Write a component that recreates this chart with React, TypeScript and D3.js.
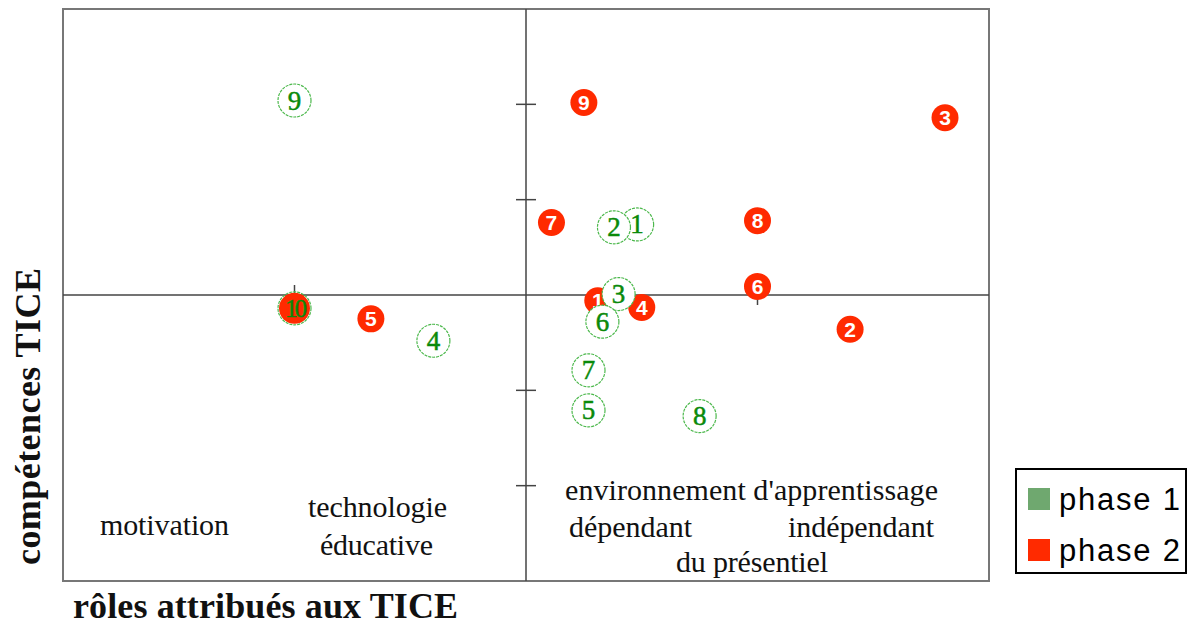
import React from "react";
import * as d3 from "d3";

// phase 1 (green rings) and phase 2 (red discs): coordinates in factorial plane
const phase1Labels = ["1", "2", "3", "4", "5", "6", "7", "8", "9", "10"];
const phase1X = [0.48, 0.38, 0.40, -0.40, 0.27, 0.33, 0.27, 0.75, -1.0, -1.0];
const phase1Y = [0.74, 0.71, 0.01, -0.48, -1.21, -0.28, -0.79, -1.27, 2.04, -0.14];

const phase2Labels = ["1", "2", "3", "4", "5", "6", "7", "8", "9", "10"];
const phase2X = [0.31, 1.40, 1.81, 0.50, -0.67, 1.0, 0.11, 1.0, 0.25, -1.0];
const phase2Y = [-0.06, -0.36, 1.86, -0.13, -0.25, 0.09, 0.76, 0.78, 2.02, -0.14];

const xTicks = [-1, 1];
const yTicks = [-2, -1, 1, 2];

const legendLabels = ["phase 1", "phase 2"];

const W = 1189;
const H = 623;

export default function App() {
  const x = d3.scaleLinear().domain([-2, 2]).range([63, 989]);
  const y = d3.scaleLinear().domain([-3, 3]).range([581, 9]);

  const green = "#0a8a0a";
  const ring = "#4cb84c";
  const red = "#ff2a00";
  const serif = "'Liberation Serif', 'Times New Roman', serif";
  const sans = "'Liberation Sans', Arial, sans-serif";

  const p1 = phase1Labels.map((l, i) => ({ l, x: x(phase1X[i]), y: y(phase1Y[i]) }));
  const p2 = phase2Labels.map((l, i) => ({ l, x: x(phase2X[i]), y: y(phase2Y[i]) }));

  const coincident = (a: { l: string; x: number; y: number }, list: { l: string; x: number; y: number }[]) =>
    list.some((q) => q.l === a.l && Math.hypot(q.x - a.x, q.y - a.y) < 5);

  return (
    <svg
      width={W}
      height={H}
      style={{ position: "absolute", left: 0, top: 0, background: "#fff" }}
    >
      {/* frame */}
      <rect x={63} y={9} width={926} height={572} fill="none" stroke="#777" strokeWidth={2} />
      {/* axes */}
      <line x1={x(-2)} x2={x(2)} y1={y(0)} y2={y(0)} stroke="#444" strokeWidth={1.5} />
      <line x1={x(0)} x2={x(0)} y1={y(3)} y2={y(-3)} stroke="#444" strokeWidth={1.5} />
      {yTicks.map((t) => (
        <line key={"yt" + t} x1={x(0) - 10} x2={x(0) + 10} y1={y(t)} y2={y(t)} stroke="#444" strokeWidth={1.5} />
      ))}
      {xTicks.map((t) => (
        <line key={"xt" + t} x1={x(t)} x2={x(t)} y1={y(0) - 10} y2={y(0) + 10} stroke="#444" strokeWidth={1.5} />
      ))}

      {/* quadrant captions */}
      <g fontFamily={serif} fontSize={30} fill="#111">
        <text x={100} y={535} textLength={129}>motivation</text>
        <text x={308} y={517} textLength={139}>technologie</text>
        <text x={320} y={555} textLength={113}>éducative</text>
        <text x={565} y={500} textLength={373}>environnement d'apprentissage</text>
        <text x={569} y={537} textLength={123}>dépendant</text>
        <text x={788} y={537} textLength={146}>indépendant</text>
        <text x={676} y={572} textLength={152}>du présentiel</text>
      </g>

      {/* phase 2 markers */}
      {p2.map((p) => {
        const shared = coincident(p, p1);
        return (
          <g key={"r" + p.l}>
            <circle cx={p.x} cy={p.y} r={shared ? 15.5 : 13.5} fill={red} />
            {!shared && (
              <text
                x={p.x}
                y={p.y + 7.5}
                textAnchor="middle"
                fontFamily={sans}
                fontWeight="bold"
                fontSize={21}
                fill="#fff"
              >
                {p.l}
              </text>
            )}
          </g>
        );
      })}

      {/* phase 1 markers */}
      {p1.map((p) => {
        const shared = coincident(p, p2);
        return (
          <g key={"g" + p.l}>
            <circle
              cx={p.x}
              cy={p.y}
              r={16.5}
              fill={shared ? "none" : "#fff"}
              stroke={ring}
              strokeWidth={1.2}
              strokeDasharray="3 1"
            />
            <text
              x={p.x}
              y={p.y + 9}
              textAnchor="middle"
              fontFamily={serif}
              fontSize={p.l.length > 1 ? 25 : 27}
              letterSpacing={p.l.length > 1 ? -3 : 0}
              stroke={green}
              strokeWidth={0.5}
              fill={green}
            >
              {p.l}
            </text>
          </g>
        );
      })}

      {/* axis titles */}
      <text x={73} y={618} fontFamily={serif} fontWeight="bold" fontSize={36} textLength={385} fill="#111">
        rôles attribués aux TICE
      </text>
      <text
        transform={`translate(40,565) rotate(-90)`}
        fontFamily={serif}
        fontWeight="bold"
        fontSize={36}
        textLength={297}
        fill="#111"
      >
        compétences TICE
      </text>

      {/* legend */}
      <rect x={1016} y={469} width={170} height={104} fill="#fff" stroke="#000" strokeWidth={2} />
      {legendLabels.map((l, i) => (
        <g key={l}>
          <rect x={1028} y={488 + i * 51} width={22} height={22} fill={i === 0 ? "#6fa86f" : red} />
          <text x={1059} y={510 + i * 51} fontFamily={sans} fontSize={31} textLength={121} fill="#000">
            {l}
          </text>
        </g>
      ))}
    </svg>
  );
}
